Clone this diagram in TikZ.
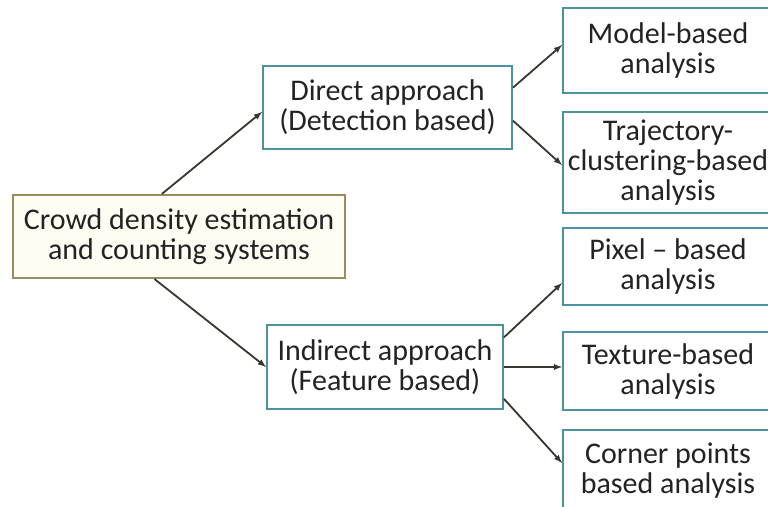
\documentclass[tikz,border=0pt]{standalone}
\usepackage{fontspec}
\setmainfont{Carlito}
\definecolor{boxblue}{RGB}{74,145,162}
\definecolor{rootline}{RGB}{150,142,92}
\definecolor{rootfill}{RGB}{254,252,243}
\definecolor{linkgray}{RGB}{55,55,48}
\definecolor{textgray}{RGB}{35,35,35}
\begin{document}
\begin{tikzpicture}[x=1pt, y=-1pt,
    every node/.style={text=textgray, font=\fontsize{30}{30}\selectfont, align=center, inner sep=0pt},
    approach/.style={draw=boxblue, line width=2pt, fill=white},
    method/.style={draw=boxblue, line width=2pt, fill=white, minimum width=210pt},
    link/.style={draw=linkgray, line width=1.8pt, -latex}]
    \useasboundingbox (0,0) rectangle (768,506);

    % Root (left)
    \node[draw=rootline, line width=2pt, fill=rootfill, minimum width=332pt, minimum height=83pt] (root) at (179,236.5)
        {Crowd density estimation\\and counting systems};

    % Direct branch (upper)
    \node[approach, minimum width=249pt, minimum height=83pt] (direct) at (387.5,107.5)
        {Direct approach\\(Detection based)};
    \node[method, minimum height=85pt] (model) at (668,50.5) {Model-based\\analysis};
    \node[method, minimum height=101pt] (traj) at (668,162.5) {Trajectory-\\clustering-based\\analysis};

    % Indirect branch (lower)
    \node[approach, minimum width=236pt, minimum height=84pt] (indirect) at (385,367)
        {Indirect approach\\(Feature based)};
    \node[method, minimum height=77pt] (pixel) at (668,266.5) {Pixel -- based\\analysis};
    \node[method, minimum height=78pt] (texture) at (668,371) {Texture-based\\analysis};
    \node[method, minimum height=82pt] (corner) at (668,471) {Corner points\\based analysis};

    % Arrows
    \draw[link] (root.112) -- (direct.182);
    \draw[link] (root.240) -- (indirect.west);
    \draw[link] (direct.9) -- ([yshift=5.5pt]model.west);
    \draw[link] (direct.354) -- ([yshift=-2.5pt]traj.west);
    \draw[link] (indirect.14) -- ([yshift=-16.5pt]pixel.west);
    \draw[link] (indirect.east) -- ([yshift=4pt]texture.west);
    \draw[link] (indirect.345) -- ([yshift=8pt]corner.west);
\end{tikzpicture}
\end{document}
